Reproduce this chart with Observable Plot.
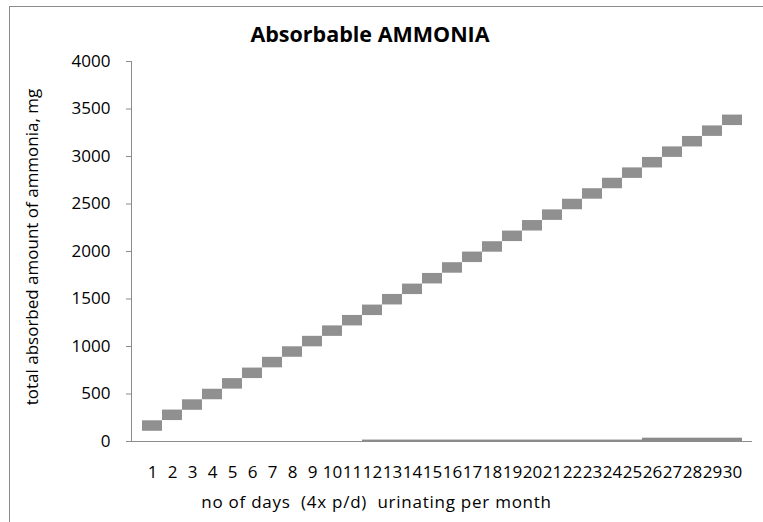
<!DOCTYPE html>
<html>
<head>
<meta charset="utf-8">
<script src="https://cdn.jsdelivr.net/npm/d3@7"></script>
<script src="https://cdn.jsdelivr.net/npm/@observablehq/plot@0.6"></script>
<style>
  html, body { margin: 0; padding: 0; background: #fff; overflow: hidden; width: 763px; height: 522px; }
  #wrap { position: relative; width: 763px; height: 522px; overflow: hidden; font-family: "Open Sans", sans-serif; color: #000; }
  #border { position: absolute; left: 9px; top: 6px; width: 754px; height: 516px; border-left: 1px solid #8c8c8c; border-top: 1px solid #8c8c8c; box-sizing: border-box; }
  #chart { position: absolute; left: 0; top: 0; }
  #title { position: absolute; left: 0; top: 19px; width: 740px; text-align: center; font-weight: bold; font-size: 21.5px; line-height: normal; white-space: nowrap; }
  #xlabel { position: absolute; left: 0; top: 490px; width: 753px; text-align: center; font-size: 17px; letter-spacing: 0.75px; line-height: normal; white-space: pre; }
  #ylabel { position: absolute; left: 31px; top: 247px; transform: translate(-50%, -50%) rotate(-90deg); font-size: 17px; line-height: normal; white-space: nowrap; }
</style>
</head>
<body>
<div id="wrap">
  <div id="border"></div>
  <div id="chart"></div>
  <div id="title">Absorbable AMMONIA</div>
  <div id="xlabel">no of days  (4x p/d)  urinating per month</div>
  <div id="ylabel">total absorbed amount of ammonia, mg</div>
</div>
<script>
const days = [1,2,3,4,5,6,7,8,9,10,11,12,13,14,15,16,17,18,19,20,21,22,23,24,25,26,27,28,29,30];
const ammonia = [168, 281, 389, 500, 612, 723, 836, 947, 1057, 1167, 1277, 1386, 1498, 1607, 1719, 1832, 1944, 2053, 2165, 2276, 2388, 2500, 2611, 2721, 2830, 2940, 3051, 3161, 3272, 3386];
const nearZero = [0,0,0,0,0,0,0,0,0,0,0,15,15,15,15,15,15,15,15,15,15,15,15,15,15,35,35,35,35,35];
const yTicks = [0, 500, 1000, 1500, 2000, 2500, 3000, 3500, 4000];

const data = days.map((d, i) => ({day: d, value: ammonia[i], low: nearZero[i]}));
const gray = "#8c8c8c";

const chart = Plot.plot({
  width: 763,
  height: 522,
  marginLeft: 131,
  marginRight: 11,
  marginTop: 61,
  marginBottom: 81,
  style: {fontFamily: "'Open Sans', sans-serif", fontSize: "17px", color: "#000", background: "transparent"},
  x: {type: "band", domain: days, padding: 0},
  y: {domain: [0, 4000]},
  marks: [
    Plot.barY(data, {x: "day", y: "low", fill: "#8a8a8a", inset: 0}),
    Plot.ruleY([0], {stroke: gray, strokeWidth: 1}),
    Plot.frame({anchor: "left", stroke: gray}),
    Plot.tickY(data, {x: "day", y: "value", stroke: "#909090", strokeWidth: 10.5}),
    Plot.axisY({ticks: yTicks, tickSize: 5, tickPadding: 16, stroke: gray, fill: "#000", tickFormat: d => String(d), label: null}),
    Plot.axisX({tickSize: 0, tickPadding: 24, fill: "#000", label: null})
  ]
});
document.getElementById("chart").appendChild(chart);
</script>
</body>
</html>
